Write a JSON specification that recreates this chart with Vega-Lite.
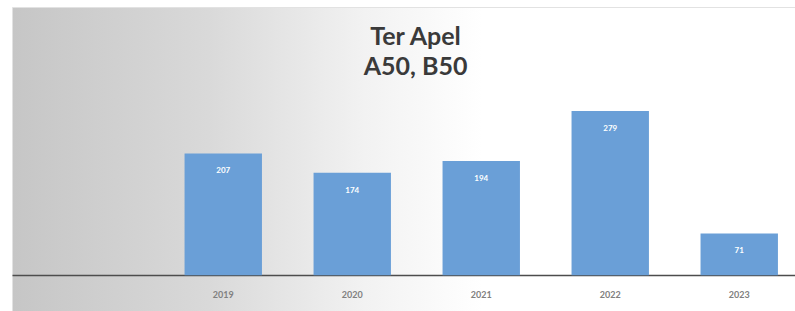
{
  "$schema": "https://vega.github.io/schema/vega-lite/v6.json",
  "width": 795,
  "height": 311,
  "autosize": {"type": "fit", "contains": "padding"},
  "padding": {"left": 12, "top": 7, "right": 0, "bottom": 0},
  "background": "#ffffff",
  "title": {
    "text": ["Ter Apel", "A50, B50"],
    "font": "Lato",
    "fontSize": 25,
    "fontWeight": "bold",
    "color": "#3a3a3a",
    "anchor": "middle",
    "frame": "group",
    "lineHeight": 30,
    "offset": -73,
    "dx": 12
  },
  "config": {
    "view": {
      "fill": {
        "gradient": "linear",
        "x1": 0, "y1": 0, "x2": 1, "y2": 0,
        "stops": [
          {"offset": 0, "color": "#c6c6c6"},
          {"offset": 0.25, "color": "#d9d9d9"},
          {"offset": 0.45, "color": "#f2f2f2"},
          {"offset": 0.6, "color": "#ffffff"},
          {"offset": 1, "color": "#ffffff"}
        ]
      },
      "stroke": "#e2e2e2"
    }
  },
  "data": {
    "values": [
      {"year": "2019", "value": 207},
      {"year": "2020", "value": 174},
      {"year": "2021", "value": 194},
      {"year": "2022", "value": 279},
      {"year": "2023", "value": 71}
    ]
  },
  "encoding": {
    "x": {
      "field": "year",
      "type": "nominal",
      "sort": null,
      "scale": {"paddingInner": 0.4, "paddingOuter": 0.735, "align": 0.91},
      "axis": {
        "title": null,
        "offset": -36,
        "domainColor": "#4d4d4d",
        "domainWidth": 1.5,
        "ticks": false,
        "labelAngle": 0,
        "labelFont": "Lato",
        "labelFontSize": 9,
        "labelFontWeight": "bold",
        "labelColor": "#808080",
        "labelPadding": 15
      }
    },
    "y": {
      "field": "value",
      "type": "quantitative",
      "scale": {"domain": [-61, 456], "nice": false, "zero": false},
      "axis": null
    }
  },
  "layer": [
    {"mark": {"type": "bar", "color": "#6a9fd7"}},
    {
      "mark": {"type": "text", "color": "#ffffff", "font": "Lato", "fontSize": 8, "fontWeight": "bold", "baseline": "middle", "dy": 18},
      "encoding": {"text": {"field": "value", "type": "quantitative"}}
    }
  ]
}
